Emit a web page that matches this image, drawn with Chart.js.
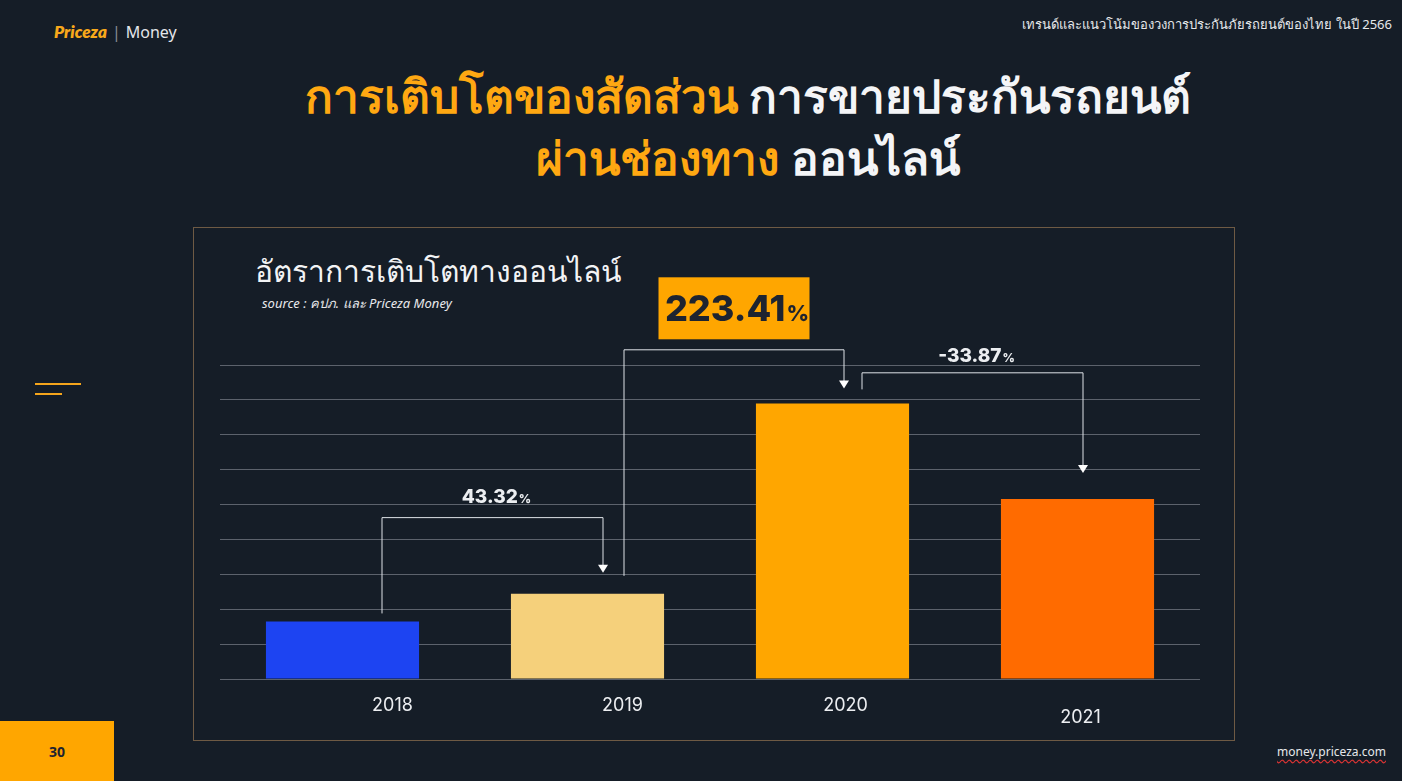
<!DOCTYPE html>
<html>
<head>
<meta charset="utf-8">
<script src="https://cdn.jsdelivr.net/npm/chart.js@4.4.1/dist/chart.umd.min.js"></script>
<style>
html, body { margin: 0; padding: 0; width: 1402px; height: 781px; overflow: hidden; background: #151d27; font-family: "Noto Sans", Inter, sans-serif; }
.abs { position: absolute; }
#brand { left: 54px; top: 21px; font-size: 16px; color: #e4e6ea; white-space: nowrap; }
#brand b { color: #f7a81b; font-style: italic; font-weight: 800; font-family: Lato, sans-serif; font-size: 17px; }
#brand span { color: #8a8f96; margin: 0 5px; }
#topright { right: 10px; top: 14px; font-size: 13px; color: #e6e8eb; white-space: nowrap; }
#title { left: 0; top: 64px; width: 1496px; text-align: center; font-size: 46px; font-weight: 700; line-height: 62px; color: #f4f5f7; white-space: nowrap; }
#title .o { color: #ffa812; }
#frame { left: 193px; top: 227px; width: 1040px; height: 512px; border: 1px solid #6e5a44; }
#ctitle { left: 255px; top: 248px; font-size: 30px; font-weight: 300; color: #f2f3f5; white-space: nowrap; }
#source { left: 262px; top: 293px; font-size: 13px; font-style: italic; color: #e8e9ec; white-space: nowrap; }
.dash { background: #f5a51c; height: 2px; }
#page { left: 0; top: 721px; width: 114px; height: 60px; background: #ffa600; color: #1d2330; font-weight: 700; font-size: 14px; line-height: 62px; text-align: center; }
#url { right: 16px; top: 743px; font-size: 12px; color: #e6e8eb; white-space: nowrap; text-decoration: underline wavy #d33; text-underline-offset: 3px; }
#chartBox { left: 0; top: 0; width: 1402px; height: 781px; }
</style>
</head>
<body>
<div id="brand" class="abs"><b>Priceza</b><span>|</span>Money</div>
<div id="topright" class="abs">เทรนด์และแนวโน้มของวงการประกันภัยรถยนต์ของไทย ในปี 2566</div>
<div id="title" class="abs"><span class="o">การเติบโตของสัดส่วน</span> การขายประกันรถยนต์<br><span class="o">ผ่านช่องทาง</span> ออนไลน์</div>
<div id="frame" class="abs"></div>
<div id="ctitle" class="abs">อัตราการเติบโตทางออนไลน์</div>
<div id="source" class="abs">source : คปภ. และ Priceza Money</div>
<div class="abs dash" style="left:35px;top:383px;width:46px;"></div>
<div class="abs dash" style="left:35px;top:393px;width:27px;"></div>
<div id="page" class="abs">30</div>
<div id="url" class="abs">money.priceza.com</div>
<div id="chartBox" class="abs"><canvas id="growthChart" width="1402" height="781"></canvas></div>

<script>
// data (bar heights in gridline units)
const years = ['2018', '2019', '2020', '2021'];
const onlineValues = [1.65, 2.44, 7.90, 5.16];
const growthLabels = ['43.32', '223.41', '-33.87'];
const yMax = 9;

const barColors = ['#1d44f2', '#f5d07b', '#ffa600', '#ff6b00'];

// x label nudges, the slide has them off-centre
const labelShift = [[50, 0], [35, 0], [13, 0], [3, 12]];

// bracket arrows between bars: offsets from bar centre/top in px, line level in y units
const brackets = [
    { from: 0, to: 1, dxA: 39, dyA: -8, level: 4.64, dxB: 15, dyB: -21, text: growthLabels[0], boxed: false, up: 21 },
    { from: 1, to: 2, dxA: 36, dyA: -18, level: 9.45, dxB: 11, dyB: -15, text: growthLabels[1], boxed: true, up: 41 },
    { from: 2, to: 3, dxA: 29, dyA: -14, level: 8.79, dxB: 5, dyB: -26, text: growthLabels[2], boxed: false, up: 17 }
];

function drawPercent(ctx, x, y, num, size, color) {
    const big = `800 ${size}px Inter, "Noto Sans", sans-serif`;
    const small = `800 ${Math.round(size * 0.62)}px Inter, "Noto Sans", sans-serif`;
    ctx.font = big;
    const w1 = ctx.measureText(num).width;
    ctx.font = small;
    const w2 = ctx.measureText('%').width;
    const start = x - (w1 + w2) / 2;
    ctx.fillStyle = color;
    ctx.textAlign = 'left';
    ctx.textBaseline = 'alphabetic';
    ctx.font = big;
    ctx.fillText(num, start, y + size * 0.36);
    ctx.font = small;
    ctx.fillText('%', start + w1 + 1, y + size * 0.36);
}

const bracketPlugin = {
    id: 'bracketPlugin',
    afterDatasetsDraw(chart) {
        const ctx = chart.ctx;
        const bars = chart.getDatasetMeta(0).data;
        const yScale = chart.scales.y;
        const xScale = chart.scales.x;

        // year labels
        ctx.save();
        ctx.fillStyle = '#eceef1';
        ctx.font = '18px Inter, "Noto Sans", sans-serif';
        ctx.textAlign = 'center';
        ctx.textBaseline = 'middle';
        years.forEach((yr, i) => {
            const x = xScale.getPixelForValue(i) + labelShift[i][0];
            ctx.fillText(yr, x, chart.chartArea.bottom + 27 + labelShift[i][1]);
        });
        ctx.restore();

        brackets.forEach(b => {
            const a = bars[b.from], c = bars[b.to];
            const xa = a.x + b.dxA, ya = a.y + b.dyA;
            const xb = c.x + b.dxB, yb = c.y + b.dyB;
            const yl = yScale.getPixelForValue(b.level);
            ctx.save();
            ctx.strokeStyle = '#dfe3e8';
            ctx.lineWidth = 1;
            ctx.beginPath();
            ctx.moveTo(xa + 0.5, ya);
            ctx.lineTo(xa + 0.5, yl + 0.5);
            ctx.lineTo(xb + 0.5, yl + 0.5);
            ctx.lineTo(xb + 0.5, yb - 7);
            ctx.stroke();
            ctx.fillStyle = '#ffffff';
            ctx.beginPath();
            ctx.moveTo(xb - 4.5, yb - 8);
            ctx.lineTo(xb + 5.5, yb - 8);
            ctx.lineTo(xb + 0.5, yb);
            ctx.closePath();
            ctx.fill();

            const mx = (xa + xb) / 2;
            const my = yl - b.up;
            if (b.boxed) {
                ctx.fillStyle = '#ffa600';
                ctx.fillRect(mx - 75, my - 31, 151, 62);
                drawPercent(ctx, mx + 3, my, b.text, 36, '#1e2430');
            } else {
                drawPercent(ctx, mx + 4, my, b.text, 19, '#eceef1');
            }
            ctx.restore();
        });
    }
};

new Chart(document.getElementById('growthChart').getContext('2d'), {
    type: 'bar',
    data: {
        labels: years,
        datasets: [{
            label: 'online',
            data: onlineValues,
            backgroundColor: barColors,
            borderWidth: 0,
            categoryPercentage: 1,
            barPercentage: 0.625
        }]
    },
    options: {
        responsive: false,
        animation: false,
        devicePixelRatio: 1,
        layout: { padding: { left: 220, right: 202, top: 365, bottom: 102 } },
        plugins: { legend: { display: false }, tooltip: { enabled: false } },
        scales: {
            x: { display: false },
            y: {
                min: 0,
                max: yMax,
                ticks: { display: false, stepSize: 1 },
                border: { display: false },
                grid: { color: 'rgba(190,196,204,0.42)', lineWidth: 1, drawTicks: false }
            }
        }
    },
    plugins: [bracketPlugin]
});
</script>
</body>
</html>
